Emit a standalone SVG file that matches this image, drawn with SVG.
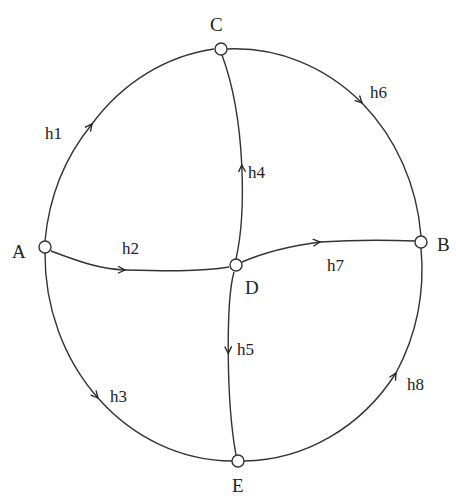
<svg xmlns="http://www.w3.org/2000/svg" width="456" height="496" viewBox="0 0 456 496">
<defs>
<marker id="arr" viewBox="-8 -5 10 10" markerWidth="10" markerHeight="10" refX="0" refY="0" orient="auto" markerUnits="userSpaceOnUse">
<path d="M-7,-3.5 L0,0 L-7,3.5" fill="none" stroke="#222" stroke-width="1.3"/>
</marker>
</defs>
<style>
.e{fill:none;stroke:#333;stroke-width:1.4;marker-mid:url(#arr)}
.n{fill:#fff;stroke:#333;stroke-width:1.4}
.t{font-family:"Liberation Serif",serif;font-size:19px;fill:#222}
.l{font-family:"Liberation Serif",serif;font-size:17px;fill:#222}
</style>
<rect width="456" height="496" fill="#fff"/>
<g id="connectors">
<path id="h1" class="e" d="M45,241 A188,206 0 0 1 92,124 A188,206 0 0 1 214,49"/>
<path id="h6" class="e" d="M227,49 A188,206 0 0 1 362,103 A188,206 0 0 1 421,236"/>
<path id="h8" class="e" d="M244,461 A188,206 0 0 0 396,373 A188,206 0 0 0 421,248"/>
<path id="h3" class="e" d="M45,253 A188,206 0 0 0 98,398 A188,206 0 0 0 232,461"/>
<path id="h4" class="e" d="M236,259 C241,237 243.5,202.25 241.75,164.9 C240,127.5 234,87.5 222,55"/>
<path id="h5" class="e" d="M234,272 C230,286 228,318 228.25,353.4 C228.5,388.75 231,427.5 236,455"/>
<path id="h2" class="e" d="M51,251 C80,262 100,269 125,270 C160,271 200,272 229,267"/>
<path id="h7" class="e" d="M242,262 C265,252 290,246 320,242 C350,240 390,240 415,241"/>
</g>
<g id="A"><circle class="n" cx="45" cy="247" r="6"/><text class="t" x="12" y="258">A</text></g>
<g id="C"><circle class="n" cx="221" cy="49" r="6"/><text class="t" x="210" y="31">C</text></g>
<g id="D"><circle class="n" cx="236" cy="265" r="6"/><text class="t" x="245" y="294">D</text></g>
<g id="B"><circle class="n" cx="421" cy="242" r="6"/><text class="t" x="437" y="251">B</text></g>
<g id="E"><circle class="n" cx="238" cy="461" r="6"/><text class="t" x="232" y="492">E</text></g>
<g id="labels">
<text class="l" x="45" y="139">h1</text>
<text class="l" x="122" y="254">h2</text>
<text class="l" x="110" y="402">h3</text>
<text class="l" x="248" y="178">h4</text>
<text class="l" x="237" y="355">h5</text>
<text class="l" x="370" y="98">h6</text>
<text class="l" x="327" y="271">h7</text>
<text class="l" x="407" y="390">h8</text>
</g>
</svg>
